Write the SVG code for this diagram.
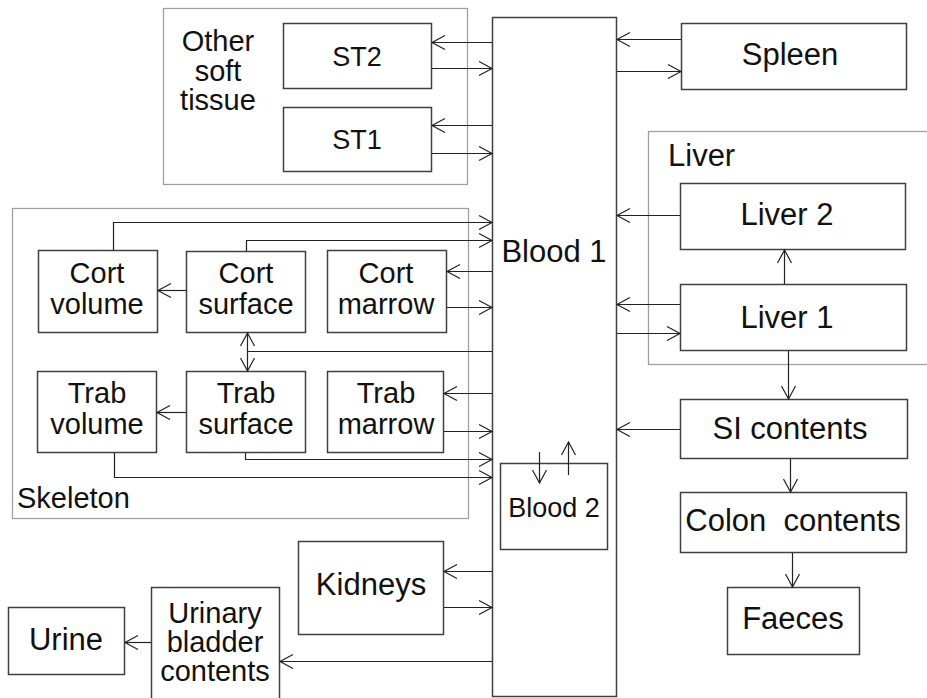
<svg xmlns="http://www.w3.org/2000/svg" width="927" height="698" viewBox="0 0 927 698">
<style>
.grp{fill:none;stroke:#a0a0a0;stroke-width:1.3}
.box{fill:#fff;stroke:#404040;stroke-width:1.5}
.bx{fill:none;stroke:#404040;stroke-width:1.5}
.c{fill:none;stroke:#222;stroke-width:1.2}
.a{fill:none;stroke:#222;stroke-width:1.2;marker-end:url(#ah)}
.d{fill:none;stroke:#222;stroke-width:1.2;marker-start:url(#ahs);marker-end:url(#ah)}
text{font-family:"Liberation Sans",Arial,sans-serif;fill:#111;text-anchor:middle}
.L{font-size:31px}
.M{font-size:29px}
.S{font-size:27px}
.B{font-size:29px}
</style>
<defs>
<marker id="ah" markerUnits="userSpaceOnUse" markerWidth="20" markerHeight="20" viewBox="-15 -10 20 20" refX="0" refY="0" orient="auto">
<path d="M-13,-7 L0,0 L-13,7" fill="none" stroke="#222" stroke-width="1.2"/>
</marker>
<marker id="ahs" markerUnits="userSpaceOnUse" markerWidth="20" markerHeight="20" viewBox="-5 -10 20 20" refX="0" refY="0" orient="auto">
<path d="M13,-7 L0,0 L13,7" fill="none" stroke="#222" stroke-width="1.2"/>
</marker>
</defs>

<g id="group-soft-tissue">
<rect class="grp" x="163.5" y="8.5" width="304" height="176"/>
<text class="M" x="218" y="51">Other</text>
<text class="M" x="218" y="81">soft</text>
<text class="M" x="218" y="110">tissue</text>
</g>
<g id="group-skeleton">
<rect class="grp" x="12.5" y="208.5" width="456" height="310"/>
<text class="M" x="17" y="508" style="text-anchor:start">Skeleton</text>
</g>
<g id="group-liver">
<rect class="grp" x="648.5" y="131.5" width="290" height="233"/>
<text class="L" x="668" y="166" style="text-anchor:start">Liver</text>
</g>

<g id="blood1">
<rect class="box" x="492.5" y="17.5" width="124" height="679"/>
<text class="L" x="554" y="262">Blood 1</text>
</g>
<g id="blood2">
<rect class="bx" x="500.5" y="463.5" width="107" height="86"/>
<text class="S" x="554" y="517">Blood 2</text>
</g>
<g id="st2">
<rect class="box" x="283.5" y="23.5" width="148" height="65"/>
<text class="S" x="357" y="66">ST2</text>
</g>
<g id="st1">
<rect class="box" x="283.5" y="107.5" width="148" height="64"/>
<text class="S" x="357" y="149">ST1</text>
</g>
<g id="spleen">
<rect class="box" x="681.5" y="23.5" width="225" height="66"/>
<text class="L" x="790" y="65">Spleen</text>
</g>
<g id="liver2">
<rect class="box" x="680.5" y="183.5" width="225" height="66"/>
<text class="L" x="787" y="225">Liver 2</text>
</g>
<g id="liver1">
<rect class="box" x="680.5" y="284.5" width="226" height="66"/>
<text class="L" x="787" y="328">Liver 1</text>
</g>
<g id="si">
<rect class="box" x="680.5" y="399.5" width="227" height="59"/>
<text class="L" x="790" y="439">SI contents</text>
</g>
<g id="colon">
<rect class="box" x="680.5" y="492.5" width="226" height="60"/>
<text class="L" x="793" y="531" xml:space="preserve">Colon  contents</text>
</g>
<g id="faeces">
<rect class="box" x="727.5" y="587.5" width="132" height="67"/>
<text class="L" x="793" y="629">Faeces</text>
</g>
<g id="cort-volume">
<rect class="box" x="38.5" y="250.5" width="119" height="82"/>
<text class="M" x="97" y="283">Cort</text>
<text class="M" x="97" y="314">volume</text>
</g>
<g id="cort-surface">
<rect class="box" x="186.5" y="251.5" width="119" height="81"/>
<text class="M" x="246" y="283">Cort</text>
<text class="M" x="246" y="314">surface</text>
</g>
<g id="cort-marrow">
<rect class="box" x="327.5" y="250.5" width="119" height="82"/>
<text class="M" x="386" y="283">Cort</text>
<text class="M" x="386" y="314">marrow</text>
</g>
<g id="trab-volume">
<rect class="box" x="37.5" y="371.5" width="119" height="81"/>
<text class="M" x="97" y="403">Trab</text>
<text class="M" x="97" y="434">volume</text>
</g>
<g id="trab-surface">
<rect class="box" x="186.5" y="371.5" width="119" height="81"/>
<text class="M" x="246" y="403">Trab</text>
<text class="M" x="246" y="434">surface</text>
</g>
<g id="trab-marrow">
<rect class="box" x="327.5" y="371.5" width="116" height="81"/>
<text class="M" x="386" y="403">Trab</text>
<text class="M" x="386" y="434">marrow</text>
</g>
<g id="kidneys">
<rect class="box" x="298.5" y="541.5" width="145" height="93"/>
<text class="L" x="371" y="595">Kidneys</text>
</g>
<g id="bladder">
<rect class="box" x="151.5" y="587.5" width="128" height="112"/>
<text class="B" x="215" y="623">Urinary</text>
<text class="B" x="215" y="652">bladder</text>
<text class="B" x="215" y="681">contents</text>
</g>
<g id="urine">
<rect class="box" x="8.5" y="607.5" width="116" height="67"/>
<text class="L" x="66" y="650">Urine</text>
</g>

<g id="connectors">
<path class="a" d="M492,42.5 H432"/>
<path class="a" d="M432,68.5 H492"/>
<path class="a" d="M492,125.5 H432"/>
<path class="a" d="M432,153.5 H492"/>
<path class="a" d="M681,39.5 H617"/>
<path class="a" d="M617,71.5 H681"/>
<path class="a" d="M680,215.5 H617"/>
<path class="a" d="M680,304.5 H617"/>
<path class="a" d="M617,333.5 H680"/>
<path class="a" d="M784.5,284 V250"/>
<path class="a" d="M788.5,351 V399"/>
<path class="a" d="M680,429.5 H617"/>
<path class="a" d="M790.5,459 V492"/>
<path class="a" d="M792.5,553 V587"/>
<path class="a" d="M113.5,250 V222.5 H492"/>
<path class="a" d="M246.5,251 V240.5 H492"/>
<path class="a" d="M186,290.5 H158"/>
<path class="a" d="M492,271.5 H447"/>
<path class="a" d="M447,307.5 H492"/>
<path class="c" d="M492,351.5 H247"/>
<path class="d" d="M247.5,333 V371"/>
<path class="a" d="M186,412.5 H157"/>
<path class="a" d="M492,393.5 H444"/>
<path class="a" d="M444,431.5 H492"/>
<path class="a" d="M245.5,453 V459.5 H492"/>
<path class="a" d="M114.5,453 V477.5 H492"/>
<path class="a" d="M539.5,452 V483"/>
<path class="a" d="M568.5,475 V442"/>
<path class="a" d="M492,571.5 H444"/>
<path class="a" d="M444,607.5 H492"/>
<path class="a" d="M492,661.5 H280"/>
<path class="a" d="M151,642.5 H125"/>
</g>
</svg>
